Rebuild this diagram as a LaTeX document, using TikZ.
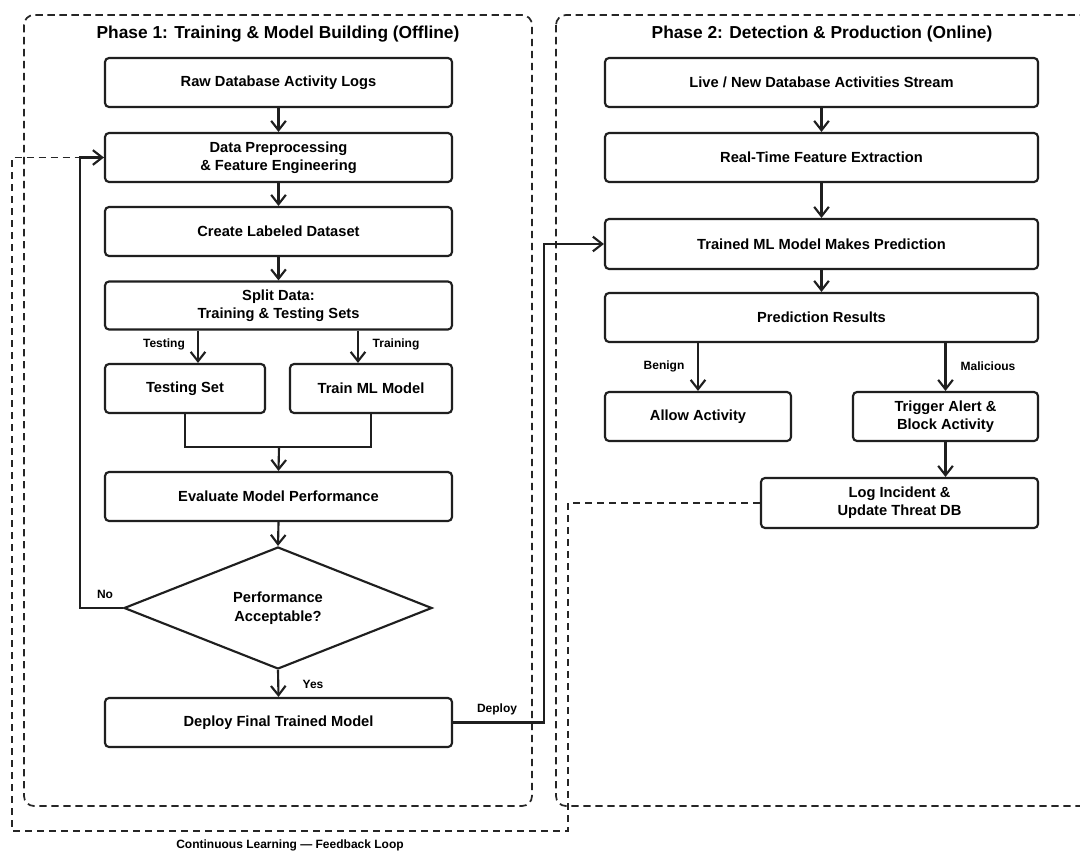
\documentclass[tikz,border=0pt]{standalone}
\usepackage{fontspec}
\setmainfont{Liberation Sans}
\usetikzlibrary{arrows.meta,shapes.geometric}
\newlength\pxl \setlength\pxl{0.75pt}
\begin{document}
\begin{tikzpicture}[x=0.75pt,y=-0.75pt,
  box/.style={draw=black!88, line width=1.6pt, rounded corners=3pt, fill=white, align=center, inner sep=0pt,
    font=\fontsize{11}{13.5}\selectfont\bfseries, minimum height=49\pxl},
  arr/.style={draw=black!88, line width=1.6pt, -{Straight Barb[length=7pt,width=11pt]}},
  conn/.style={draw=black!88, line width=1.6pt},
  frame/.style={draw=black!85, line width=1.3pt, dash pattern=on 5.5pt off 3.5pt, rounded corners=7.5pt},
  fb/.style={draw=black!85, line width=1.3pt, dash pattern=on 5.5pt off 3.5pt},
  lbl/.style={font=\fontsize{9}{11}\selectfont\bfseries, inner sep=0pt},
  ttl/.style={font=\fontsize{13}{15}\selectfont\bfseries, inner sep=0pt}]
\clip (0,0) rectangle (1080,852);
\fill[white] (0,0) rectangle (1080,852);

% frames
\draw[frame] (24,15) rectangle (532,806);
\draw[frame] (556,15) rectangle (1110,806);
\node[ttl] (t1) at (278,34) {Phase 1: Training \& Model Building (Offline)};
\node[ttl] (t2) at (822,34) {Phase 2: Detection \& Production (Online)};

% phase 1 nodes
\node[box, minimum width=347\pxl] (raw) at (278.5,82.5) {Raw Database Activity Logs};
\node[box, minimum width=347\pxl] (prep) at (278.5,157.5) {Data Preprocessing\\\& Feature Engineering};
\node[box, minimum width=347\pxl] (lab) at (278.5,231.5) {Create Labeled Dataset};
\node[box, minimum width=347\pxl, minimum height=48\pxl] (split) at (278.5,305.5) {Split Data:\\Training \& Testing Sets};
\node[box, minimum width=160\pxl] (test) at (185,388.5) {Testing Set};
\node[box, minimum width=162\pxl] (train) at (371,388.5) {Train ML Model};
\node[box, minimum width=347\pxl] (eval) at (278.5,496.5) {Evaluate Model Performance};
\node[draw=black!88, line width=1.6pt, shape=diamond, aspect=2.52, inner sep=0pt, fill=white,
  minimum width=308\pxl, minimum height=122\pxl, align=center,
  font=\fontsize{11}{14.2}\selectfont\bfseries] (dia) at (278,608) {Performance\\Acceptable?};
\node[box, minimum width=347\pxl] (dep) at (278.5,722.5) {Deploy Final Trained Model};

% phase 2 nodes
\node[box, minimum width=433\pxl] (live) at (821.5,82.5) {Live / New Database Activities Stream};
\node[box, minimum width=433\pxl] (rt) at (821.5,157.5) {Real-Time Feature Extraction};
\node[box, minimum width=433\pxl, minimum height=50\pxl] (tml) at (821.5,244) {Trained ML Model Makes Prediction};
\node[box, minimum width=433\pxl] (pr) at (821.5,317.5) {Prediction Results};
\node[box, minimum width=186\pxl] (allow) at (698,416.5) {Allow Activity};
\node[box, minimum width=185\pxl] (trig) at (945.5,416.5) {Trigger Alert \&\\Block Activity};
\node[box, minimum width=277\pxl, minimum height=50\pxl] (log) at (899.5,503) {Log Incident \&\\Update Threat DB};

% helper coordinates
\coordinate (xT) at (198,0);
\coordinate (xR) at (358,0);
\coordinate (mrg) at (279,447);
\coordinate (noC) at (80,608);
\coordinate (depC) at (544,722.5);
\coordinate (f1) at (568,503);
\coordinate (f2) at (568,831);
\coordinate (f3) at (12,831);
\coordinate (f4) at (12,157.5);

% feedback loop (dashed)
\draw[fb] (log.west) -- (f1) -- (f2) -- (f3) -- (f4) -- (prep.west);
\node[lbl] (fbl) at (290,845) {Continuous Learning — Feedback Loop};

% phase 1 connectors
\draw[arr] (raw.south) -- (prep.north);
\draw[arr] (prep.south) -- (lab.north);
\draw[arr] (lab.south) -- (split.north);
\draw[arr] (split.south -| xT) -- (test.north -| xT);
\draw[arr] (split.south -| xR) -- (train.north -| xR);
\node[lbl] (lt) at (164,344) {Testing};
\node[lbl] (ltr) at (396,344) {Training};
\draw[conn] (test.south) |- (mrg) -| (train.south);
\draw[arr] (mrg) -- (eval.north);
\draw[arr] (eval.south) -- (dia.north);
\draw[arr] (dia.south) -- (dep.north);
\node[lbl] (ly) at (313,684) {Yes};
\draw[arr] (dia.west) -- (noC) |- (prep.west);
\node[lbl] (ln) at (105,594) {No};
\draw[arr] (dep.east) -- (depC) |- (tml.west);
\node[lbl] (ld) at (497,709) {Deploy};

% phase 2 connectors
\draw[arr] (live.south) -- (rt.north);
\draw[arr] (rt.south) -- (tml.north);
\draw[arr] (tml.south) -- (pr.north);
\draw[arr] (pr.south -| allow.north) -- (allow.north);
\draw[arr] (pr.south -| trig.north) -- (trig.north);
\node[lbl] (lb) at (664,366) {Benign};
\node[lbl] (lm) at (988,366) {Malicious};
\draw[arr] (trig.south) -- (trig.south |- log.north);
\end{tikzpicture}
\end{document}
